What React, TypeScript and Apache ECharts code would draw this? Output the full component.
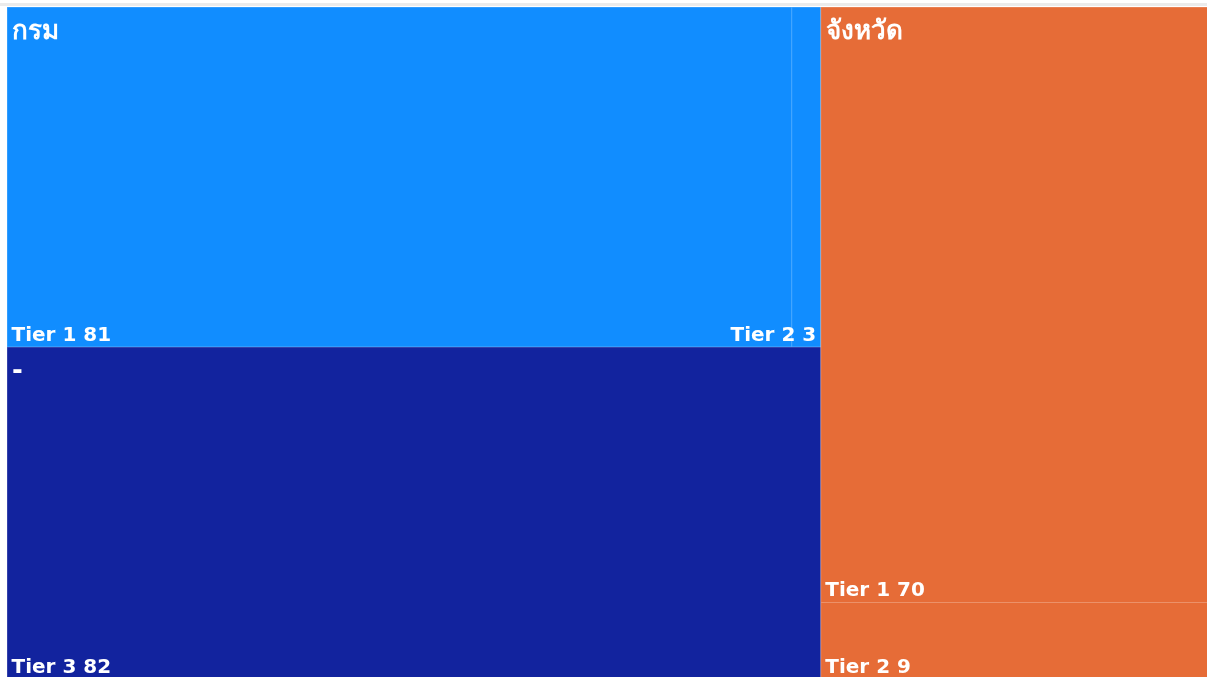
import React, { useEffect, useRef } from "react";
import * as echarts from "echarts";

// Groups (top-level categories) and their leaves
const groupNames = ["กรม", "-", "จังหวัด"];
const groupColors = ["#118DFF", "#12239E", "#E66C37"];
const leafNames = [["Tier 1", "Tier 2"], ["Tier 3"], ["Tier 1", "Tier 2"]];
const leafValues = [[81, 3], [82], [70, 9]];

const FONT = "'Comic Sans MS', 'DejaVu Sans', 'Noto Sans', sans-serif";

export default function App() {
  const ref = useRef<HTMLDivElement>(null);

  useEffect(() => {
    if (!ref.current) return;
    const chart = echarts.init(ref.current, undefined, { renderer: "svg" });

    const leafData = groupNames.map((g, gi) => ({
      name: g,
      itemStyle: {
        color: groupColors[gi],
        borderColor: groupColors[gi],
        borderWidth: 0,
        gapWidth: 0,
      },
      children: leafNames[gi].map((n, li) => {
        const tiny = leafValues[gi][li] / leafValues[gi].reduce((a, b) => a + b, 0) < 0.1 && gi === 0;
        return {
          name: n,
          value: leafValues[gi][li],
          itemStyle: {
            color: groupColors[gi],
            borderColor: "rgba(255,255,255,0.28)",
            borderWidth: 0.5,
          },
          label: tiny
            ? { position: "insideBottomRight", overflow: "none", offset: [2, 3] }
            : undefined,
        };
      }),
    }));

    const groupData = groupNames.map((g, gi) => ({
      name: g,
      value: leafValues[gi].reduce((a, b) => a + b, 0),
      itemStyle: { color: "rgba(0,0,0,0)", borderWidth: 0, borderColor: "rgba(0,0,0,0)" },
    }));

    const common = {
      type: "treemap",
      left: 7,
      top: 7,
      width: 1201,
      height: 672,
      squareRatio: 3,
      roam: false,
      nodeClick: false,
      breadcrumb: { show: false },
      animation: false,
    };

    chart.setOption({
      animation: false,
      graphic: [
        {
          type: "rect",
          left: 0,
          top: 3,
          shape: { width: 1207, height: 3 },
          style: { fill: "#ebebeb" },
          silent: true,
        },
      ],
      series: [
        {
          ...common,
          z: 2,
          itemStyle: { borderWidth: 0, gapWidth: 0, borderColor: "rgba(0,0,0,0)" },
          label: {
            show: true,
            position: "insideBottomLeft",
            distance: 1,
            offset: [-2, 3],
            color: "#fff",
            fontFamily: FONT,
            fontWeight: "bold",
            fontSize: 20,
            overflow: "truncate",
            formatter: (p: any) => `${p.name} ${p.value}`,
          },
          upperLabel: { show: false },
          data: leafData,
        },
        {
          ...common,
          z: 3,
          silent: true,
          itemStyle: { borderWidth: 0, gapWidth: 0, borderColor: "rgba(0,0,0,0)" },
          label: {
            show: true,
            position: "insideTopLeft",
            distance: 4,
            offset: [-4, 1],
            color: "#fff",
            fontFamily: FONT,
            fontWeight: "bold",
            fontSize: 26,
            formatter: "{b}",
          },
          data: groupData,
        },
      ],
    } as any);

    return () => chart.dispose();
  }, []);

  return (
    <div
      ref={ref}
      style={{ position: "fixed", left: 0, top: 0, width: 1207, height: 677 }}
    />
  );
}
